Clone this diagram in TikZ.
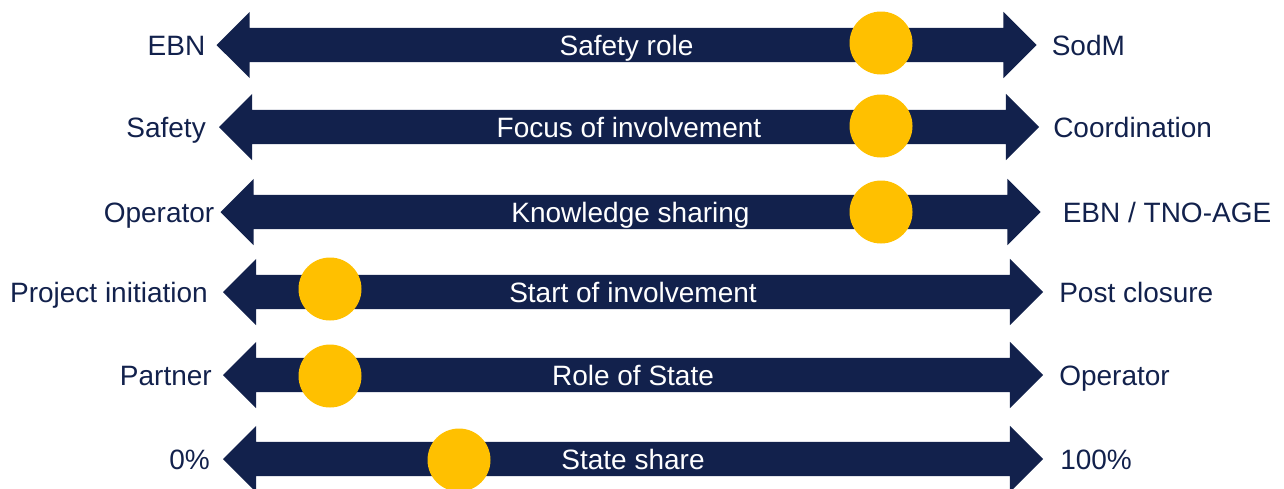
\documentclass[tikz,border=0pt]{standalone}
\usepackage{fontspec}
\setmainfont{Liberation Sans}
\usetikzlibrary{shapes.arrows, positioning}
\definecolor{barblue}{HTML}{12214C}
\definecolor{dotgold}{HTML}{FFC000}

\begin{document}
\begin{tikzpicture}
        [
            x=1pt, y=-1pt,
            bar/.style={double arrow, fill=barblue, text=white, font=\fontsize{28}{30}\selectfont,
                minimum height=820pt, minimum width=66pt, double arrow head extend=16pt,
                double arrow tip angle=90, inner xsep=0pt, inner ysep=7pt,
                text height=20pt, text depth=0pt, outer sep=0pt},
            dot/.style={circle, fill=dotgold, minimum size=63pt, inner sep=0pt},
            side/.style={text=barblue, font=\fontsize{28}{30}\selectfont, inner sep=0pt,
                text height=20pt, text depth=0pt},
        ]

    \useasboundingbox (0,0) rectangle (1284,488);

    % one row per scale: bar, marker, end labels
    \foreach \i/\y/\mx/\dx/\dy/\lgap/\rgap/\ltext/\mtext/\rtext in {
        1/45/626.5/881/43/11pt/15pt/EBN/Safety role/SodM,
        2/127/629/881/126/13pt/14pt/Safety/Focus of involvement/Coordination,
        3/212/630.5/881/212/6pt/22pt/Operator/Knowledge sharing/{EBN / TNO-AGE},
        4/292/633/330/289/15pt/16pt/Project initiation/Start of involvement/Post closure,
        5/375/633/330/376/11pt/16pt/Partner/Role of State/Operator,
        6/459/633/459/460/13pt/17pt/0\%/State share/100\%}{
        \node[bar] (bar\i) at (\mx,\y) {\mtext};
        \node[dot] (dot\i) at (\dx,\dy) {};
        \node[side, left=\lgap of bar\i] (left\i) {\ltext};
        \node[side, right=\rgap of bar\i] (right\i) {\rtext};
    }
\end{tikzpicture}
\end{document}
